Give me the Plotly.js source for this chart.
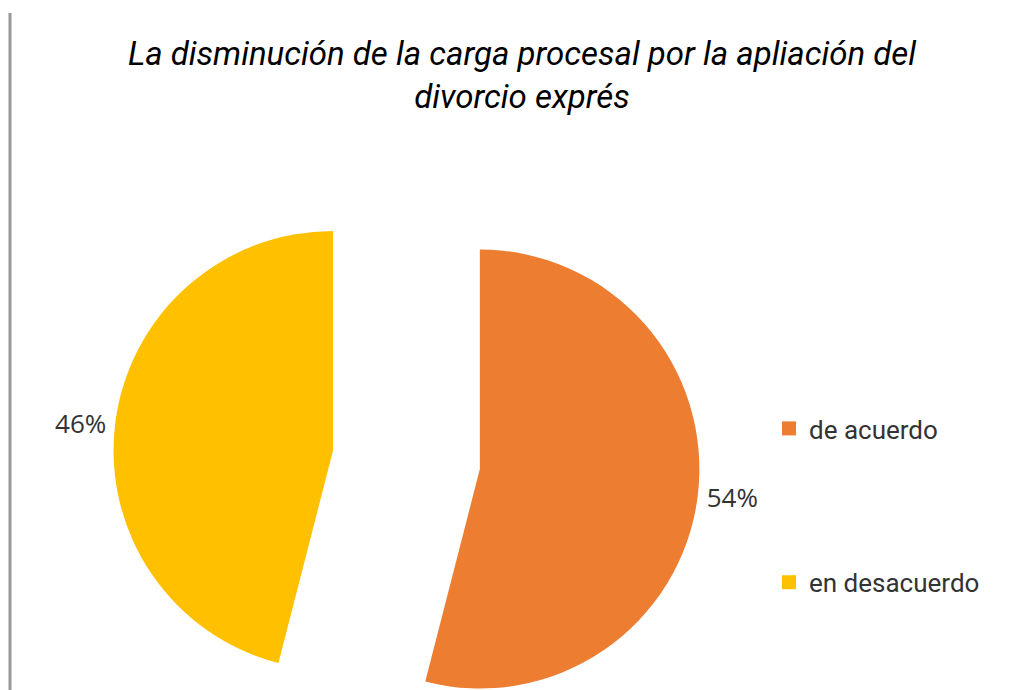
<!DOCTYPE html>
<html><head><meta charset="utf-8">
<script src="https://cdn.plot.ly/plotly-3.0.1.min.js"></script>
<style>html,body{margin:0;padding:0;overflow:hidden;background:#fff}#chart{width:1014px;height:760px}</style>
</head><body><div id="chart"></div>
<script>
const categories = ['de acuerdo', 'en desacuerdo'];
const values = [54, 46];
const colors = ['#ED7D31', '#FFC000'];
const titleText = 'La disminución de la carga procesal por la apliación del<br>divorcio exprés';

const W = 1014, H = 760;
const pie = {
  type: 'pie', labels: categories, values: values, sort: false,
  direction: 'clockwise', rotation: 0,
  pull: values.map(() => 0.337),
  marker: {colors: colors, line: {width: 0}},
  textinfo: 'percent', textposition: 'outside',
  outsidetextfont: {family: 'Open Sans', size: 26, color: '#333'},
  showlegend: false, hoverinfo: 'label+percent',
  domain: {x: [0.1114, 0.6903], y: [0.0089, 0.7813]}
};
const legendTraces = categories.map((c, i) => ({
  type: 'scatter', mode: 'markers', x: [null], y: [null], name: c,
  legendgroup: 'g' + i, marker: {symbol: 'square', size: 14, color: colors[i]},
  hoverinfo: 'skip'
}));
const layout = {
  width: W, height: H, margin: {l: 0, r: 0, t: 0, b: 0},
  paper_bgcolor: '#fff', plot_bgcolor: 'rgba(0,0,0,0)',
  xaxis: {visible: false, range: [0, 1]}, yaxis: {visible: false, range: [0, 1]},
  title: {text: titleText, font: {family: 'Roboto', size: 33, color: '#000', style: 'italic'},
    x: 522 / W, xanchor: 'center', xref: 'container', y: 1 - 65 / H, yref: 'container', yanchor: 'top'},
  legend: {x: 769 / W, xanchor: 'left', y: 1 - 405 / H, yanchor: 'top',
    font: {family: 'Roboto', size: 26, color: '#333'}, traceorder: 'grouped',
    tracegroupgap: 117, bgcolor: 'rgba(0,0,0,0)'},
  shapes: [{type: 'line', xref: 'paper', yref: 'paper', x0: 10 / W, x1: 10 / W, y0: 0, y1: 1 - 13 / H,
    line: {color: '#999', width: 3}}]
};
Plotly.newPlot('chart', [pie].concat(legendTraces), layout, {displayModeBar: false, staticPlot: true});
</script></body></html>
